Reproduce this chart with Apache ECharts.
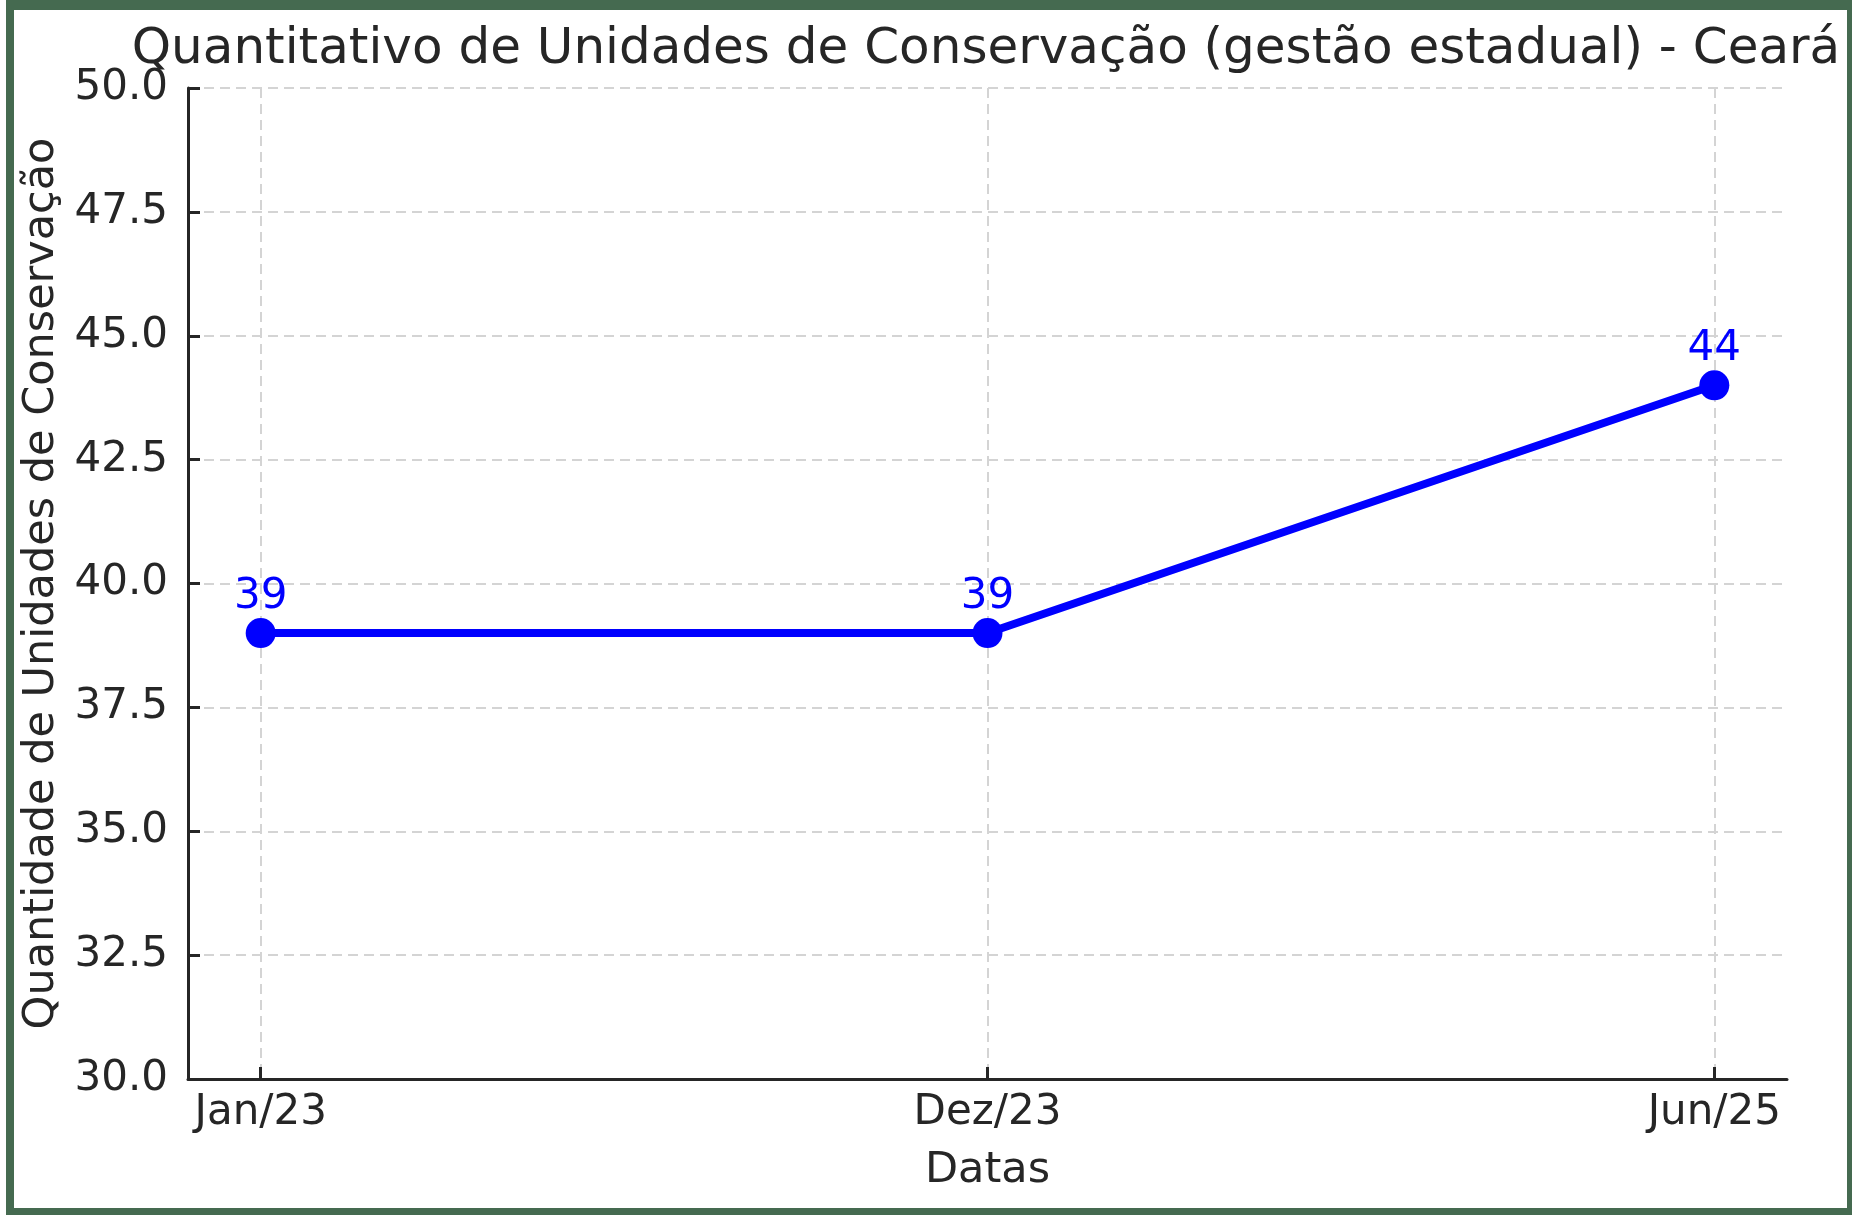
<!DOCTYPE html>
<html>
<head>
<meta charset="utf-8">
<script src="https://cdn.jsdelivr.net/npm/echarts@6/dist/echarts.min.js"></script>
<style>
  html, body { margin: 0; padding: 0; background: #ffffff; }
  #chart { position: absolute; left: 0; top: 0; width: 1852px; height: 1215px; }
  #frame { position: absolute; left: 6px; top: 0; width: 1846px; height: 1215px; box-sizing: border-box;
           border-style: solid; border-color: #456a50; border-width: 10px 5px 7px 8px; pointer-events: none; }
</style>
</head>
<body>
<div id="chart"></div>
<div id="frame"></div>
<script>
const categories = ['Jan/23', 'Dez/23', 'Jun/25'];
const values = [39, 39, 44];
const yTicks = { min: 30, max: 50, step: 2.5 };
const titleText = 'Quantitativo de Unidades de Conservação (gestão estadual) - Ceará';
const xName = 'Datas';
const yName = 'Quantidade de Unidades de Conservação';

const FONT = 'DejaVu Sans';
const TXT = '#262626';
const GRIDC = '#d4d4d4';
const catIdx = categories.map((c, i) => i);
const seriesData = values.map((v, i) => [i, v]);

const chart = echarts.init(document.getElementById('chart'));
chart.setOption({
  backgroundColor: '#ffffff',
  animation: false,
  title: {
    text: titleText,
    left: 986, top: 25, textAlign: 'center', padding: 0,
    textStyle: { fontFamily: FONT, fontSize: 50, fontWeight: 'normal', color: TXT }
  },
  grid: { left: 188, top: 88, right: 65, bottom: 136 },
  xAxis: {
    type: 'value',
    min: -0.1, max: 2.1,
    name: xName, nameLocation: 'middle', nameGap: 70,
    nameTextStyle: { fontFamily: FONT, fontSize: 43, color: TXT },
    axisLine: { show: true, onZero: false, lineStyle: { color: '#262626', width: 3 } },
    axisTick: { show: true, inside: true, length: 12, customValues: catIdx, lineStyle: { color: '#262626', width: 3 } },
    axisLabel: { customValues: catIdx, formatter: v => categories[Math.round(v)] || '',
                 fontFamily: FONT, fontSize: 42, color: TXT, margin: 13 },
    splitLine: { show: true, customValues: catIdx, lineStyle: { color: GRIDC, width: 2, type: [10, 6] } }
  },
  yAxis: {
    type: 'value',
    min: yTicks.min, max: yTicks.max, interval: yTicks.step,
    name: yName, nameLocation: 'middle', nameGap: 124,
    nameTextStyle: { fontFamily: FONT, fontSize: 43, color: TXT },
    axisLine: { show: true, onZero: false, lineStyle: { color: '#262626', width: 3 } },
    axisTick: { show: true, inside: true, length: 12, lineStyle: { color: '#262626', width: 3 } },
    axisLabel: { formatter: v => v.toFixed(1), fontFamily: FONT, fontSize: 42, color: TXT, margin: 20 },
    splitLine: { show: true, lineStyle: { color: GRIDC, width: 2, type: [10, 6] } }
  },
  series: [{
    type: 'line',
    data: seriesData,
    symbol: 'circle', symbolSize: 30,
    itemStyle: { color: '#0000ff' },
    lineStyle: { color: '#0000ff', width: 8 },
    label: { show: true, position: 'top', distance: 0, formatter: p => String(p.value[1]),
             fontFamily: FONT, fontSize: 42, color: '#0000ff' },
    z: 5
  }]
});
</script>
</body>
</html>
